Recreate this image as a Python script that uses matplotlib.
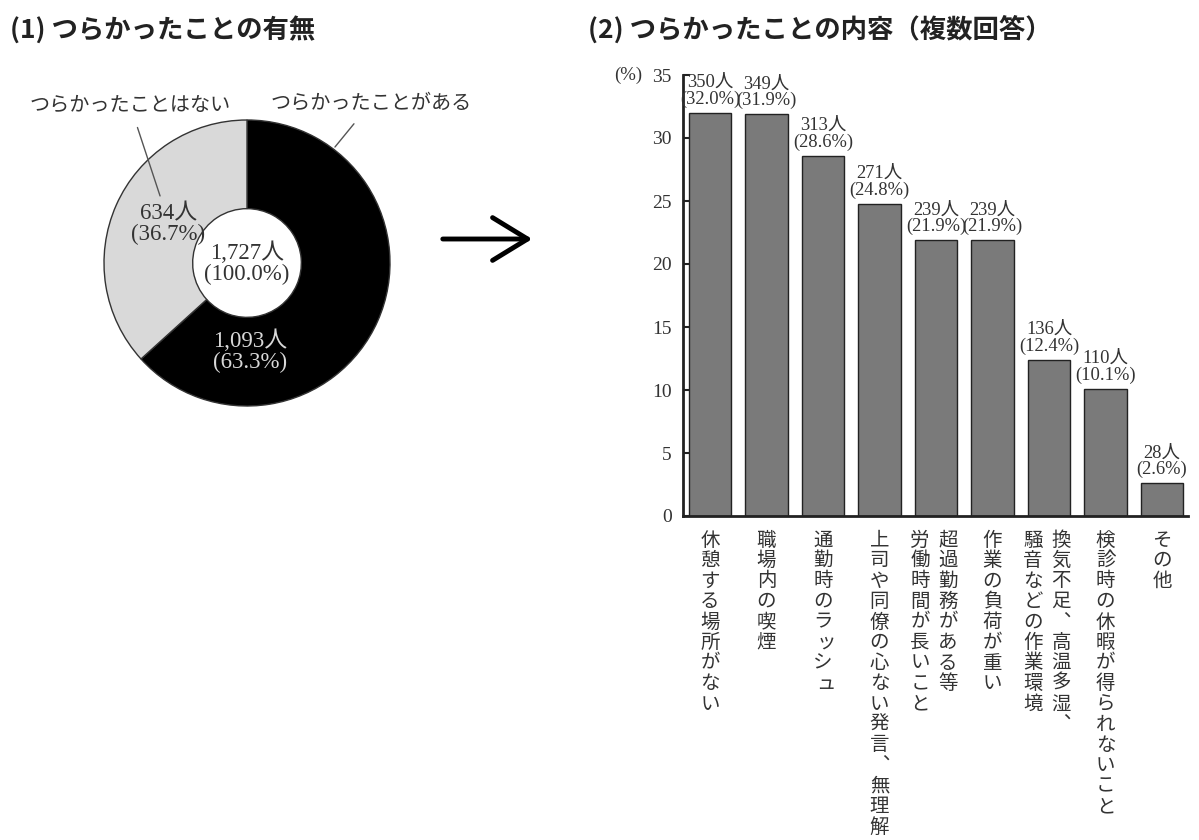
import matplotlib
matplotlib.use("Agg")
import matplotlib.pyplot as plt
from matplotlib.patches import FancyArrowPatch

plt.rcParams['font.family'] = ['Noto Sans CJK JP', 'DejaVu Sans']

# ---- data -------------------------------------------------------------
pie_labels = ["つらかったことがある", "つらかったことはない"]
pie_counts = [1093, 634]
pie_pcts = [63.3, 36.7]
total_count = 1727
total_pct = 100.0

categories = [
    "休憩する場所がない",
    "職場内の喫煙",
    "通勤時のラッシュ",
    "上司や同僚の心ない発言、無理解",
    "超過勤務がある等\n労働時間が長いこと",
    "作業の負荷が重い",
    "換気不足、高温多湿、\n騒音などの作業環境",
    "検診時の休暇が得られないこと",
    "その他",
]
bar_counts = [350, 349, 313, 271, 239, 239, 136, 110, 28]
bar_pcts = [32.0, 31.9, 28.6, 24.8, 21.9, 21.9, 12.4, 10.1, 2.6]
y_ticks = [0, 5, 10, 15, 20, 25, 30, 35]

title_left = "(1) つらかったことの有無"
title_right = "(2) つらかったことの内容（複数回答）"

# ---- figure -----------------------------------------------------------
W, H = 1199, 840
fig = plt.figure(figsize=(W / 100, H / 100), dpi=100)
fig.patch.set_facecolor("white")

SERIF = ['Liberation Serif', 'Noto Sans CJK JP']
TXT = "#333333"
PT = 0.72  # points per pixel at 100 dpi


def px_axes(x0, y0, x1, y1):
    return fig.add_axes([x0 / W, 1 - y1 / H, (x1 - x0) / W, (y1 - y0) / H])


# titles
fig.text(10 / W, 1 - 30 / H, title_left, fontsize=19, fontweight="bold",
         color="#222222", va="center", ha="left")
fig.text(588 / W, 1 - 30 / H, title_right, fontsize=19, fontweight="bold",
         color="#222222", va="center", ha="left")

# ---- donut ------------------------------------------------------------
axp = px_axes(104, 120, 390, 406)
axp.pie(pie_counts, colors=["black", "#d9d9d9"], startangle=90,
        counterclock=False, radius=1,
        wedgeprops=dict(width=0.62, edgecolor="#333333", linewidth=1))
axp.set_xlim(-1, 1)
axp.set_ylim(-1, 1)
axp.set_aspect("equal")
axp.axis("off")

axp.text(0.02, -0.62, f"{pie_counts[0]:,}人\n({pie_pcts[0]:.1f}%)",
         ha="center", va="center", fontsize=16.5, color="#d8d8d8",
         family=SERIF, linespacing=1.0)
axp.text(-0.55, 0.27, f"{pie_counts[1]:,}人\n({pie_pcts[1]:.1f}%)",
         ha="center", va="center", fontsize=16.5, color=TXT,
         family=SERIF, linespacing=1.0)
axp.text(0.0, 0.0, f"{total_count:,}人\n({total_pct:.1f}%)",
         ha="center", va="center", fontsize=16.5, color=TXT,
         family=SERIF, linespacing=1.0)

# callout labels with leader lines
axp.annotate(pie_labels[1], xy=(-0.608, 0.469), xytext=(-0.818, 1.105),
             ha="center", va="center", fontsize=14.5, color=TXT,
             annotation_clip=False,
             arrowprops=dict(arrowstyle="-", color="#555555", lw=1,
                             shrinkA=7, shrinkB=0))
axp.annotate(pie_labels[0], xy=(0.615, 0.811), xytext=(0.867, 1.119),
             ha="center", va="center", fontsize=14.5, color=TXT,
             annotation_clip=False,
             arrowprops=dict(arrowstyle="-", color="#555555", lw=1,
                             shrinkA=7, shrinkB=0))

# arrow between the two panels
arrow = FancyArrowPatch((440 / W, 1 - 239 / H), (535 / W, 1 - 239 / H),
                        transform=fig.transFigure,
                        arrowstyle="->,head_length=0.9,head_width=0.55",
                        mutation_scale=28, lw=3.5, color="black")
fig.patches.append(arrow)

# ---- bar chart --------------------------------------------------------
axb = px_axes(683, 75, 1188, 516)
x = list(range(len(bar_pcts)))
axb.bar(x, bar_pcts, width=0.75, color="#7a7a7a", edgecolor="#222222",
        linewidth=1, zorder=2)
axb.set_xlim(-0.478, 8.46)
axb.set_ylim(0, 35)
axb.set_yticks(y_ticks)
axb.set_xticks([])
for s in ("top", "right"):
    axb.spines[s].set_visible(False)
for s in ("left", "bottom"):
    axb.spines[s].set_linewidth(2)
    axb.spines[s].set_color("#222222")
axb.tick_params(axis="y", direction="in", length=5, width=1.5, pad=8,
                labelsize=14, labelcolor=TXT, color="#222222")
for lbl in axb.get_yticklabels():
    lbl.set_fontfamily(SERIF)

axb.annotate("(%)", xy=(0, 35), xycoords=("axes fraction", "data"),
             xytext=(-41 * PT, 0), textcoords="offset points",
             ha="right", va="center", fontsize=13.5, color=TXT, family=SERIF)

# value labels above bars
for i, (c, p) in enumerate(zip(bar_counts, bar_pcts)):
    axb.annotate(f"{c}人\n({p:.1f}%)", xy=(i, p), xytext=(0, 5 * PT),
                 textcoords="offset points", ha="center", va="bottom",
                 fontsize=13.3, color=TXT, family=SERIF, linespacing=0.95,
                 annotation_clip=False)

# vertical (tategaki) category labels
SMALL_KANA = set("ッュっゃゅょャョ")
PITCH = 20.5
TOP = 24
COL_GAP = 28


def vertical_label(ax, xpos, text):
    cols = text.split("\n")
    n = len(cols)
    for j, col in enumerate(cols):
        dx = -2 + (n - 1) * COL_GAP / 2 - j * COL_GAP if n > 1 else 0
        for k, ch in enumerate(col):
            if ch == "、":
                ch = "︑"
            ox, oy = dx, -(TOP + k * PITCH)
            if ch in SMALL_KANA:
                ox += 3
            ax.annotate(ch, xy=(xpos, 0), xycoords=("data", "axes fraction"),
                        xytext=(ox * PT, oy * PT), textcoords="offset points",
                        ha="center", va="center", fontsize=14, color=TXT,
                        annotation_clip=False)


for i, cat in enumerate(categories):
    vertical_label(axb, i, cat)

fig.savefig("out.png", dpi=100, facecolor="white")
